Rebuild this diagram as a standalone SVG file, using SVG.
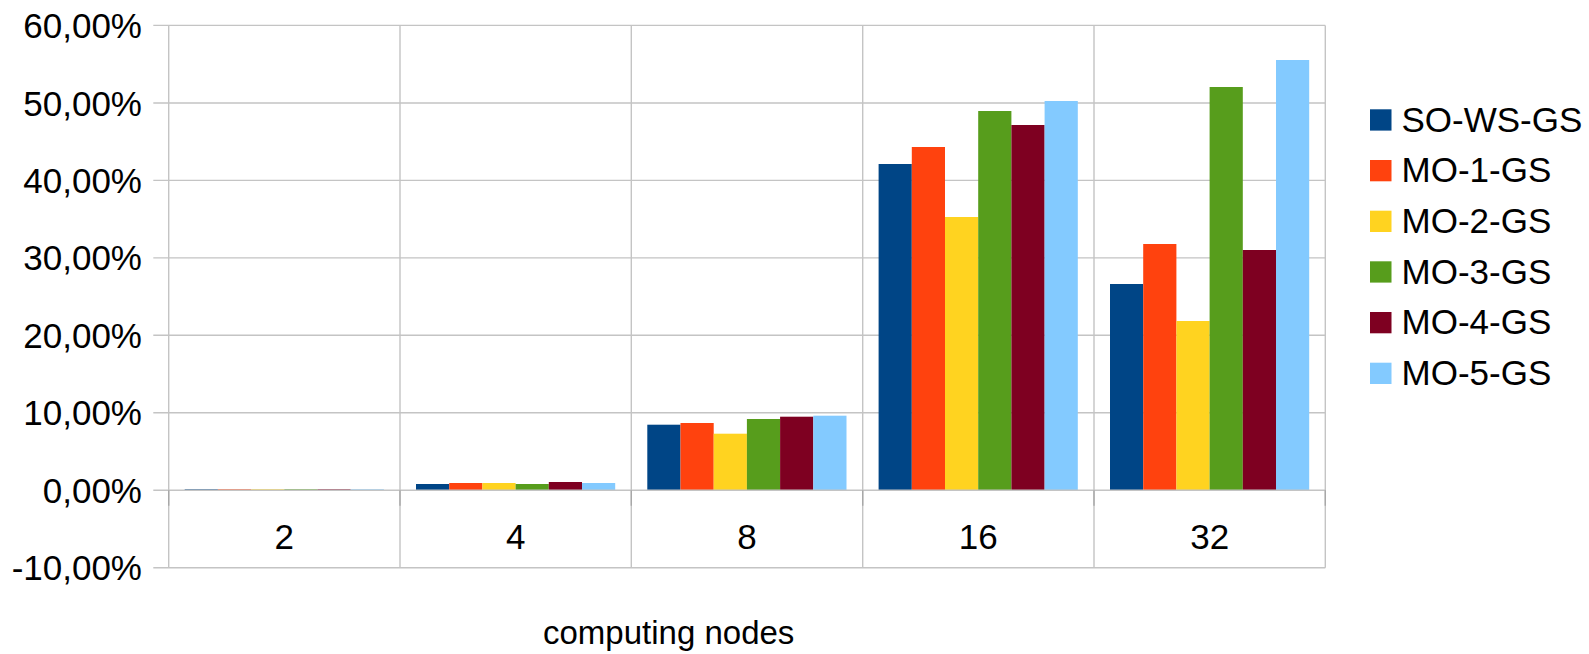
<svg xmlns="http://www.w3.org/2000/svg" width="1589" height="654" viewBox="0 0 1589 654">
<style>
.grid{stroke:#c4c4c4;stroke-width:1.4;fill:none}
.tick{stroke:#a8a8a8;stroke-width:1.4;fill:none}
.lbl{font-family:"Liberation Sans",Arial,sans-serif;font-size:35px;fill:#000}
.ylbl{text-anchor:end}
.xlbl{text-anchor:middle}
.s1{fill:#004586}.s2{fill:#ff420e}.s3{fill:#ffd320}.s4{fill:#579d1c}.s5{fill:#7e0021}.s6{fill:#83caff}
</style>
<rect width="1589" height="654" fill="#fff"/>
<g id="grid">
<path class="grid" d="M153.3 25.4H1325.3M153.3 103H1325.3M153.3 180.4H1325.3M153.3 257.9H1325.3M153.3 335.3H1325.3M153.3 412.8H1325.3M153.3 567.8H1325.3"/>
<path class="grid" d="M168.7 25.4V567.8M400 25.4V567.8M631.3 25.4V567.8M862.7 25.4V567.8M1094 25.4V567.8M1325.3 25.4V567.8"/>
</g>
<g id="yaxis-labels" class="lbl ylbl">
<text x="142" y="37.9">60,00%</text>
<text x="142" y="115.5">50,00%</text>
<text x="142" y="192.9">40,00%</text>
<text x="142" y="270.4">30,00%</text>
<text x="142" y="347.8">20,00%</text>
<text x="142" y="425.3">10,00%</text>
<text x="142" y="502.8">0,00%</text>
<text x="142" y="580.3">-10,00%</text>
</g>
<g id="series-SO-WS-GS" class="s1">
<rect x="184.7" y="489.3" width="33.2" height="1.2"/>
<rect x="416" y="484" width="33.2" height="6.3"/>
<rect x="647.3" y="424.7" width="33.2" height="65.6"/>
<rect x="878.6" y="164" width="33.2" height="326.3"/>
<rect x="1110" y="284" width="33.2" height="206.3"/>
</g>
<g id="series-MO-1-GS" class="s2">
<rect x="217.9" y="489.3" width="33.2" height="1.2"/>
<rect x="449.2" y="483" width="33.2" height="7.3"/>
<rect x="680.5" y="423" width="33.2" height="67.3"/>
<rect x="911.8" y="147" width="33.2" height="343.3"/>
<rect x="1143.2" y="244" width="33.2" height="246.3"/>
</g>
<g id="series-MO-2-GS" class="s3">
<rect x="251.1" y="489.3" width="33.2" height="1.2"/>
<rect x="482.4" y="483" width="33.2" height="7.3"/>
<rect x="713.7" y="433.7" width="33.2" height="56.6"/>
<rect x="945" y="217" width="33.2" height="273.3"/>
<rect x="1176.4" y="321" width="33.2" height="169.3"/>
</g>
<g id="series-MO-3-GS" class="s4">
<rect x="284.3" y="489.3" width="33.2" height="1.2"/>
<rect x="515.6" y="484" width="33.2" height="6.3"/>
<rect x="746.9" y="419" width="33.2" height="71.3"/>
<rect x="978.2" y="111" width="33.2" height="379.3"/>
<rect x="1209.6" y="87" width="33.2" height="403.3"/>
</g>
<g id="series-MO-4-GS" class="s5">
<rect x="317.5" y="489.3" width="33.2" height="1.2"/>
<rect x="548.8" y="482" width="33.2" height="8.3"/>
<rect x="780.1" y="416.7" width="33.2" height="73.6"/>
<rect x="1011.4" y="125" width="33.2" height="365.3"/>
<rect x="1242.8" y="250" width="33.2" height="240.3"/>
</g>
<g id="series-MO-5-GS" class="s6">
<rect x="350.7" y="489.3" width="33.2" height="1.2"/>
<rect x="582" y="483" width="33.2" height="7.3"/>
<rect x="813.3" y="415.7" width="33.2" height="74.6"/>
<rect x="1044.6" y="101" width="33.2" height="389.3"/>
<rect x="1276" y="60" width="33.2" height="430.3"/>
</g>
<g id="xaxis">
<path class="grid" d="M153.3 490.3H1325.3"/>
<path class="tick" d="M168.7 490.3V505.7M400 490.3V505.7M631.3 490.3V505.7M862.7 490.3V505.7M1094 490.3V505.7M1325.3 490.3V505.7"/>
</g>
<g id="xaxis-labels" class="lbl xlbl">
<text x="284.3" y="549.3">2</text>
<text x="515.7" y="549.3">4</text>
<text x="747" y="549.3">8</text>
<text x="978.3" y="549.3">16</text>
<text x="1209.7" y="549.3">32</text>
</g>
<text id="xaxis-title" x="668.7" y="644.3" style="font-family:'Liberation Sans',Arial,sans-serif;font-size:33px;text-anchor:middle">computing nodes</text>
<g id="legend">
<g id="legend-SO-WS-GS"><rect class="s1" x="1370" y="109.3" width="21.5" height="21.3"/><text class="lbl" x="1401.5" y="131.5">SO-WS-GS</text></g>
<g id="legend-MO-1-GS"><rect class="s2" x="1370" y="160" width="21.5" height="21.3"/><text class="lbl" x="1401.5" y="182.2">MO-1-GS</text></g>
<g id="legend-MO-2-GS"><rect class="s3" x="1370" y="210.7" width="21.5" height="21.3"/><text class="lbl" x="1401.5" y="232.9">MO-2-GS</text></g>
<g id="legend-MO-3-GS"><rect class="s4" x="1370" y="261.3" width="21.5" height="21.3"/><text class="lbl" x="1401.5" y="283.5">MO-3-GS</text></g>
<g id="legend-MO-4-GS"><rect class="s5" x="1370" y="312" width="21.5" height="21.3"/><text class="lbl" x="1401.5" y="334.2">MO-4-GS</text></g>
<g id="legend-MO-5-GS"><rect class="s6" x="1370" y="362.7" width="21.5" height="21.3"/><text class="lbl" x="1401.5" y="384.9">MO-5-GS</text></g>
</g>
</svg>
